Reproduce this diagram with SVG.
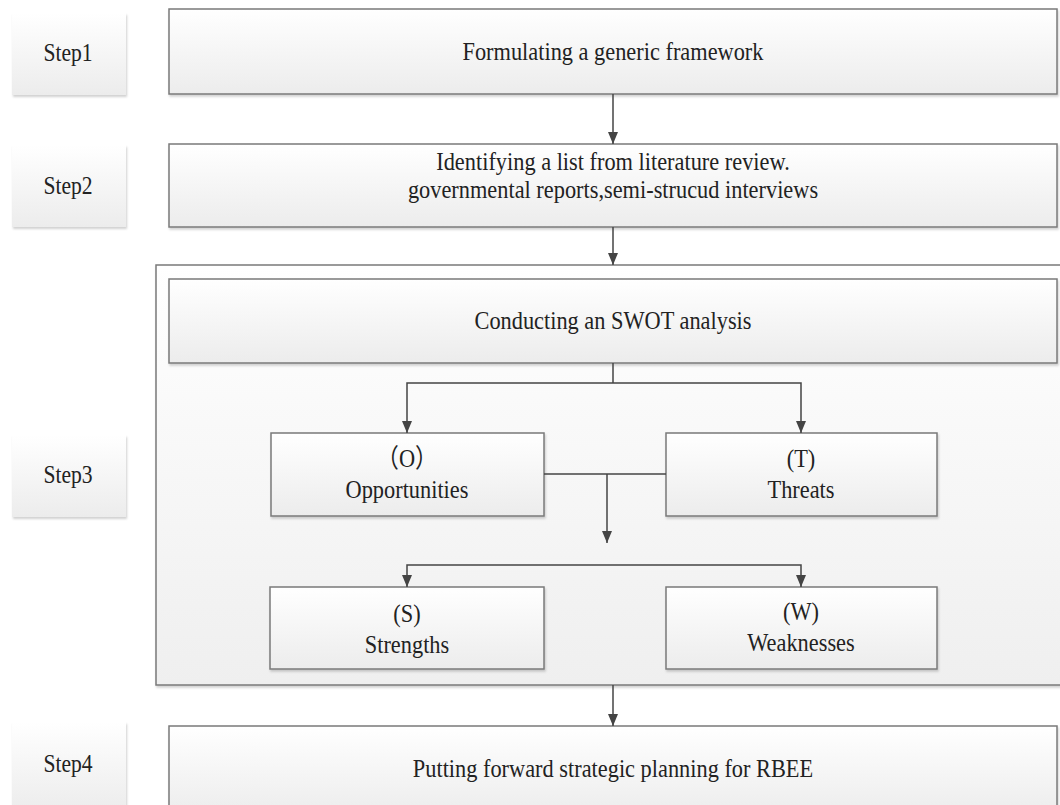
<svg xmlns="http://www.w3.org/2000/svg" width="1060" height="805" viewBox="0 0 1060 805">
<defs>
<linearGradient id="g" x1="0" y1="0" x2="0" y2="1">
<stop offset="0" stop-color="#ffffff"/>
<stop offset="1" stop-color="#ececec"/>
</linearGradient>
<linearGradient id="gc" x1="0" y1="0" x2="0" y2="1">
<stop offset="0" stop-color="#ffffff"/>
<stop offset="1" stop-color="#efefef"/>
</linearGradient>
<filter id="sh" x="-5%" y="-5%" width="110%" height="120%">
<feDropShadow dx="1" dy="2" stdDeviation="1.2" flood-color="#000" flood-opacity="0.18"/>
</filter>
<marker id="ah" viewBox="0 0 12 10" refX="12" refY="5" markerWidth="12" markerHeight="10" markerUnits="userSpaceOnUse" orient="auto">
<path d="M0,0 L12,5 L0,10 Z" fill="#444"/>
</marker>
</defs>
<style>
.box{fill:url(#g);stroke:#7a7a7a;stroke-width:1.5;filter:url(#sh)}
.lbl{fill:url(#g);stroke:none;filter:url(#sh)}
.cont{fill:url(#gc);stroke:#7a7a7a;stroke-width:1.5;filter:url(#sh)}
.t{font-family:'Liberation Serif','DejaVu Serif',serif;font-size:26px;fill:#222;text-anchor:middle}
.c{fill:none;stroke:#444;stroke-width:1.5}
</style>
<rect width="1060" height="805" fill="#fff"/>

<g id="step1-label"><rect class="lbl" x="12" y="13" width="114" height="82"/><g transform="translate(68,0) scale(0.83,1)"><text class="t" x="0" y="61">Step1</text></g></g>
<g id="step2-label"><rect class="lbl" x="12" y="145" width="114" height="82"/><g transform="translate(68,0) scale(0.83,1)"><text class="t" x="0" y="194">Step2</text></g></g>
<g id="step3-label"><rect class="lbl" x="12" y="435" width="114" height="82"/><g transform="translate(68,0) scale(0.83,1)"><text class="t" x="0" y="483">Step3</text></g></g>
<g id="step4-label"><rect class="lbl" x="12" y="722" width="114" height="90"/><g transform="translate(68,0) scale(0.83,1)"><text class="t" x="0" y="772">Step4</text></g></g>

<g id="step1"><rect class="box" x="169" y="9" width="888" height="85"/><g transform="translate(613,0) scale(0.86,1)"><text class="t" x="0" y="60">Formulating a generic framework</text></g></g>
<g id="step2"><rect class="box" x="169" y="144" width="888" height="83"/><g transform="translate(613,0) scale(0.86,1)"><text class="t" x="0" y="170">Identifying a list from literature review.</text><text class="t" x="0" y="198">governmental reports,semi-strucud interviews</text></g></g>

<g id="step3"><rect class="cont" x="156" y="265" width="920" height="420"/></g>
<g id="swot"><rect class="box" x="169" y="279" width="888" height="84"/><g transform="translate(613,0) scale(0.86,1)"><text class="t" x="0" y="329">Conducting an SWOT analysis</text></g></g>
<g id="opportunities"><rect class="box" x="271" y="433" width="273" height="83"/><g transform="translate(407,0) scale(0.86,1)"><text class="t" x="0" y="467" style="font-family:'Liberation Serif','Noto Sans CJK SC',serif">（O）</text><text class="t" x="0" y="498">Opportunities</text></g></g>
<g id="threats"><rect class="box" x="666" y="433" width="271" height="83"/><g transform="translate(801,0) scale(0.86,1)"><text class="t" x="0" y="467">(T)</text><text class="t" x="0" y="498">Threats</text></g></g>
<g id="strengths"><rect class="box" x="270" y="587" width="274" height="82"/><g transform="translate(407,0) scale(0.86,1)"><text class="t" x="0" y="622">(S)</text><text class="t" x="0" y="653">Strengths</text></g></g>
<g id="weaknesses"><rect class="box" x="666" y="587" width="271" height="82"/><g transform="translate(801,0) scale(0.86,1)"><text class="t" x="0" y="620">(W)</text><text class="t" x="0" y="651">Weaknesses</text></g></g>
<g id="step4"><rect class="box" x="169" y="726" width="888" height="90"/><g transform="translate(613,0) scale(0.86,1)"><text class="t" x="0" y="777">Putting forward strategic planning for RBEE</text></g></g>

<g id="connectors">
<path class="c" d="M613,94 V144" marker-end="url(#ah)"/>
<path class="c" d="M613,227 V265" marker-end="url(#ah)"/>
<path class="c" d="M613,363 V383"/>
<path class="c" d="M613,383 H407 V433" marker-end="url(#ah)"/>
<path class="c" d="M613,383 H801 V433" marker-end="url(#ah)"/>
<path class="c" d="M544,474 H666"/>
<path class="c" d="M607,474 V543" marker-end="url(#ah)"/>
<path class="c" d="M604,565 H407 V587" marker-end="url(#ah)"/>
<path class="c" d="M604,565 H801 V587" marker-end="url(#ah)"/>
<path class="c" d="M613,685 V726" marker-end="url(#ah)"/>
</g>
</svg>
